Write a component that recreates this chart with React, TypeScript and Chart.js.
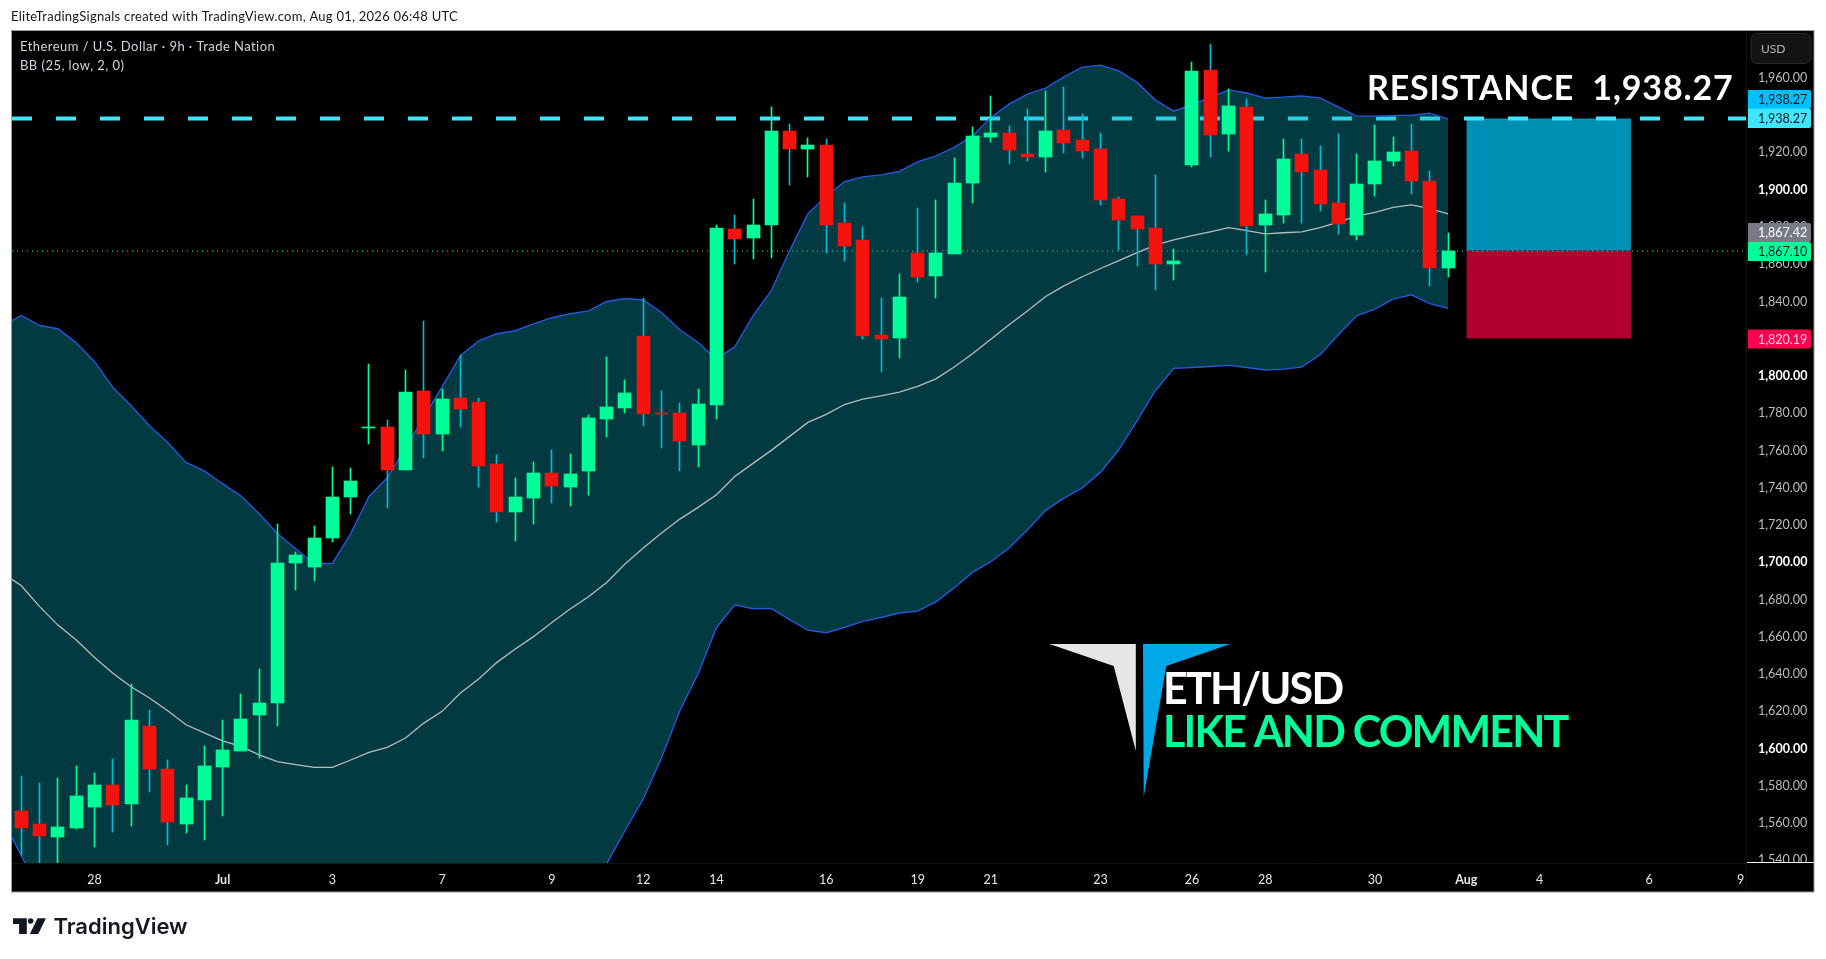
import React, { useEffect, useRef } from "react";
import { Chart, registerables } from "chart.js";

Chart.register(...registerables);

const opens = [1566.7,1559.7,1552.7,1557.5,1568.8,1580.6,1570.4,1612.3,1589.2,1559.7,1572.6,1590.3,1598.9,1618.2,1624.6,1699.8,1697.6,1713.2,1735.2,1772.2,1772.8,1749.7,1792.1,1769,1788.3,1786.2,1752.9,1727.1,1734.7,1748.1,1740.6,1749.2,1777.1,1783,1821.6,1780.3,1780.3,1763.1,1784.6,1879,1874.2,1881.2,1931.6,1922,1924.1,1882.3,1873.1,1822.1,1820.5,1866.2,1853.8,1865.6,1903.7,1928.4,1930.6,1919.3,1917.7,1932.2,1926.8,1922,1895.1,1886,1879.6,1860.2,1913.4,1964.4,1930,1944.5,1881.2,1886.5,1919.3,1910.7,1893,1875.8,1903.2,1915.5,1920.9,1904.8,1858.1];
const closes = [1557.6,1553.3,1558.1,1574.7,1580.6,1569.9,1615.5,1589.2,1560.8,1573.6,1590.8,1599.4,1616.1,1624.6,1699.8,1704.1,1713.2,1735.2,1743.8,1772.8,1749.7,1791.6,1769,1787.8,1782.4,1751.8,1727.1,1735.2,1748.1,1741.1,1747.5,1777.6,1783.5,1791,1779.7,1779.7,1765.3,1785.1,1879.6,1873.7,1881.2,1931.6,1922,1924.1,1881.2,1869.9,1821.6,1820,1842.5,1853.3,1866.2,1903.7,1928.9,1930.6,1921.4,1917.7,1931.6,1925.2,1920.9,1894.6,1883.9,1879,1860.2,1861.9,1963.8,1929.5,1945,1880.6,1887.1,1916.6,1909.6,1892.5,1881.7,1903.2,1915.5,1920.4,1904.8,1858.1,1867.1];
const highs = [1585.5,1581.7,1584.4,1590.8,1587.1,1594.6,1634.8,1620.9,1594,1580.6,1601.6,1615.5,1629.5,1642.9,1720.7,1705.7,1719.6,1751.3,1750.8,1806.6,1776.5,1803.4,1829.7,1793.2,1811.4,1788.3,1757.7,1745.4,1754,1760.4,1758.3,1779.2,1810.3,1798,1842,1792.1,1785.6,1793.2,1881.2,1886.5,1895.1,1944.5,1935.4,1927.9,1927.3,1893,1880.1,1842,1854.9,1890.3,1894.6,1917.1,1933.8,1950.4,1934.3,1943.4,1953.1,1955.2,1940.8,1930.6,1896.2,1886,1908,1868.3,1968.7,1978.3,1954.2,1948.8,1894.6,1927.3,1927.3,1923.6,1930,1919.3,1934.8,1928.4,1935.4,1910.2,1876.9];
const lows = [1543.1,1536.6,1535.5,1557,1547.4,1555.4,1558.6,1576.9,1548.4,1554.9,1551.1,1564,1598.9,1595.1,1612.3,1685.3,1690.1,1711,1726.1,1763.6,1729.3,1749.7,1756.1,1759.9,1772.8,1740.6,1721.8,1711.6,1720.7,1732,1730.4,1736.3,1767.4,1780.3,1773.3,1761.5,1749.2,1751.3,1777.1,1860.2,1862.9,1863.5,1902.6,1906.9,1866.2,1861.9,1820,1802.3,1809.8,1850.6,1842,1865.6,1893,1925.7,1913.9,1915.5,1909.6,1919.8,1917.1,1891.9,1867.8,1859.2,1846.3,1851.7,1912.3,1917.7,1920.9,1865.1,1856,1882.3,1882.3,1888.7,1876.4,1873.1,1896.7,1912.8,1897.8,1848.4,1853.3];

// Bollinger bands: the first value belongs to the bar just left of the visible window.
const bbUpper = [1827.2,1832.5,1827.1,1825.4,1817.8,1807.7,1793.9,1784,1773.3,1764.3,1753.6,1749.1,1742.2,1735.7,1726.1,1715.3,1707.3,1699.4,1699.4,1715.3,1735.2,1745.4,1761,1778.1,1794.2,1810.9,1818.9,1822.7,1824.3,1828,1831.3,1833.4,1835,1840,1841.6,1840.8,1834.1,1824.8,1818,1809.1,1815.7,1832.3,1845.8,1867.2,1887.2,1896.4,1904.3,1906.9,1908,1909.8,1915,1918.2,1922.7,1928.9,1938.8,1945.9,1951.3,1954.5,1960.6,1965.8,1966.9,1963.8,1957.6,1948.1,1942.2,1945.6,1949.5,1953.6,1951.9,1949.2,1949.7,1950.3,1949.3,1944.5,1939.5,1939.5,1939.8,1940,1941.1,1937.9];
const bbBasis = [1694.1,1687.4,1676.2,1666.3,1658.3,1648.9,1640.4,1633.2,1627.2,1620.3,1612.8,1608.4,1604.2,1601.2,1596.6,1593,1591.4,1589.9,1589.9,1593.9,1598,1600.7,1605.7,1613.7,1620,1629.8,1637.4,1646.3,1653.5,1660.1,1667.7,1674.9,1681.5,1689.2,1699.1,1707.7,1715.7,1723.2,1729.5,1736.3,1746.1,1753.1,1760.1,1767.6,1775.1,1779.4,1784.7,1787.6,1789.4,1791.4,1794.5,1798.5,1804.8,1811.9,1819.8,1827.5,1834.9,1842.7,1848.4,1853.3,1857.7,1861.9,1866.2,1870.3,1873.1,1875.3,1877.4,1879.7,1878.1,1876.3,1876.9,1877.4,1879.7,1882.6,1885.8,1887.8,1890.5,1891.9,1889.9,1887.1];
const bbLower = [1561.3,1542.5,1523.7,1507.2,1498.8,1490.1,1486.9,1482.4,1481.1,1476.3,1472,1467.7,1466.2,1466.7,1467.1,1470.7,1475.5,1480.4,1480.4,1472.5,1460.8,1456,1450.4,1449.3,1445.8,1448.7,1455.9,1469.9,1482.7,1492.2,1504.1,1516.4,1528,1538.2,1555.9,1573.1,1595.1,1620.3,1640.2,1664.9,1677.2,1675.1,1675.3,1669.2,1663.6,1662.2,1665,1668.3,1670.4,1672.8,1673.8,1678.8,1686.2,1694.6,1700.3,1707.7,1717.3,1727.9,1734.5,1740,1748.4,1760.4,1776,1792.1,1804.1,1804.6,1805.1,1805.7,1804.6,1803.2,1803.7,1804.8,1811.4,1822.1,1832.3,1835.9,1841.3,1843.6,1838.9,1836.3];

const resistancePrice = 1938.27;
const entryPrice = 1867.42;
const stopPrice = 1820.19;
const lastPrice = 1867.1;
const positionBars = [79, 88];

const yTicks = [1540,1560,1580,1600,1620,1640,1660,1680,1700,1720,1740,1760,1780,1800,1820,1840,1860,1880,1900,1920,1940,1960];
const yBold = [1600, 1700, 1800, 1900];
const xTickBars = [4, 11, 17, 23, 29, 34, 38, 44, 49, 53, 59, 64, 68, 74, 79, 83, 89, 94];
const xTickLabels = ["28","Jul","3","7","9","12","14","16","19","21","23","26","28","30","Aug","4","6","9"];
const xBold = ["Jul", "Aug"];

const X_MIN = -0.514, X_MAX = 94.29, Y_MIN = 1538.6, Y_MAX = 1985.2;

const GREEN = "#00ff99", RED = "#f7130d", WICK_UP = "#00ff99", WICK_DOWN = "#00bcd4";
const UI = "Lato, Roboto, sans-serif";

const fmt = (v: number) => v.toLocaleString("en-US", { minimumFractionDigits: 2, maximumFractionDigits: 2 });

const snapBars = {
  id: "snapBars",
  afterDatasetsUpdate(chart: any) {
    chart.data.datasets.forEach((ds: any, i: number) => {
      if (ds.type !== "bar") return;
      chart.getDatasetMeta(i).data.forEach((el: any) => {
        el.x = Math.round(el.x - 0.5) + 0.5;
        const top = Math.round(Math.min(el.y, el.base));
        let bot = Math.round(Math.max(el.y, el.base));
        if (bot <= top) bot = top + 1;
        el.y = top;
        el.base = bot;
      });
    });
  },
};

const poly = (ctx: CanvasRenderingContext2D, pts: number[][], color: string) => {
  ctx.beginPath();
  pts.forEach((p, i) => (i ? ctx.lineTo(p[0], p[1]) : ctx.moveTo(p[0], p[1])));
  ctx.closePath();
  ctx.fillStyle = color;
  ctx.fill();
};

const text = (ctx: any, s: string, x: number, y: number, font: string, color: string, spacing = 0) => {
  ctx.font = font;
  ctx.fillStyle = color;
  ctx.textAlign = "left";
  ctx.textBaseline = "alphabetic";
  ctx.letterSpacing = spacing + "px";
  ctx.fillText(s, x, y);
  ctx.letterSpacing = "0px";
};

const paneBackground = {
  id: "paneBackground",
  beforeDraw(chart: any) {
    const ctx = chart.ctx;
    ctx.save();
    ctx.fillStyle = "#ffffff";
    ctx.fillRect(0, 0, 1826, 959);
    ctx.fillStyle = "#000000";
    ctx.fillRect(11, 30, 1803, 862);
    ctx.restore();
  },
};

const overlay = {
  id: "overlay",
  afterDraw(chart: any) {
    const ctx = chart.ctx;
    ctx.save();

    // pane frame and axis separators
    ctx.strokeStyle = "#141414";
    ctx.lineWidth = 1;
    ctx.beginPath();
    ctx.moveTo(1746.5, 31);
    ctx.lineTo(1746.5, 891);
    ctx.moveTo(12, 863.5);
    ctx.lineTo(1746, 863.5);
    ctx.stroke();
    ctx.fillStyle = "#000000";
    ctx.fillRect(1747, 862, 66, 29);
    ctx.fillStyle = "#ffffff";
    ctx.fillRect(1747, 862, 67, 1);
    ctx.strokeStyle = "#9b9b9b";
    ctx.strokeRect(11.5, 30.5, 1802.5, 861.5);

    // header
    text(ctx, "EliteTradingSignals created with TradingView.com, Aug 01, 2026 06:48 UTC", 11, 21, `13px ${UI}`, "#131722", 0.25);
    text(ctx, "Ethereum / U.S. Dollar · 9h · Trade Nation", 20, 51, `13px ${UI}`, "#d1d4dc", 0.45);
    text(ctx, "BB (25, low, 2, 0)", 20, 70, `13px ${UI}`, "#d1d4dc", 0.45);

    // USD box
    ctx.beginPath();
    ctx.roundRect(1751, 33.5, 60, 30, 6);
    ctx.fillStyle = "#131313";
    ctx.fill();
    ctx.strokeStyle = "#2a2a2a";
    ctx.stroke();
    text(ctx, "USD", 1761, 53, `12px ${UI}`, "#b2b5be");

    // price labels
    const labels: [number, number, number, string, string][] = [
      [resistancePrice, 90, 19, "#00bfff", "#131722"],
      [resistancePrice, 108.5, 19.5, "#3fe6ff", "#131722"],
      [entryPrice, 223, 19, "#787b86", "#ffffff"],
      [lastPrice, 242, 19, GREEN, "#131722"],
      [stopPrice, 329.5, 19, "#ff0050", "#ffd0dc"],
    ];
    labels.forEach(([v, top, h, bg, fg]) => {
      ctx.beginPath();
      ctx.roundRect(1748, top, 63, h, [0, 2, 2, 0]);
      ctx.fillStyle = bg;
      ctx.fill();
      text(ctx, fmt(v), 1758, top + h / 2 + 4.5, `12.5px ${UI}`, fg);
    });

    // annotations
    text(ctx, "RESISTANCE  1,938.27", 1367, 100, `bold 34px ${UI}`, "#ffffff", 0.85);
    poly(ctx, [[1049.5, 644], [1135.8, 644], [1135.8, 750.7], [1113.7, 666]], "#e6e6e6");
    poly(ctx, [[1143, 644], [1230.5, 644], [1166.3, 666], [1143.7, 797]], "#00a8e8");
    text(ctx, "ETH/USD", 1163, 704, `bold 43px ${UI}`, "#ffffff", -1.8);
    text(ctx, "LIKE AND COMMENT", 1163, 747, `bold 43px ${UI}`, GREEN, -1.8);

    // footer brand
    poly(ctx, [[13, 918.3], [26.8, 918.3], [26.8, 934], [19.1, 934], [19.1, 924], [13, 924]], "#131722");
    poly(ctx, [[37.5, 918.3], [45.9, 918.3], [38.3, 934], [29.9, 934]], "#131722");
    ctx.beginPath();
    ctx.arc(30.6, 921, 2.8, 0, Math.PI * 2);
    ctx.fillStyle = "#131722";
    ctx.fill();
    text(ctx, "TradingView", 53.5, 934, `600 22px Inter, ${UI}`, "#131722");

    ctx.restore();
  },
};

export default function App() {
  const ref = useRef<HTMLCanvasElement | null>(null);
  useEffect(() => {
    const line = (data: any[], extra: any) => ({
      type: "line",
      data,
      pointRadius: 0,
      tension: 0,
      clip: 0,
      ...extra,
    });
    const series = (vals: number[]) => vals.map((y, i) => ({ x: i - 1, y }));
    const chart = new Chart(ref.current as HTMLCanvasElement, {
      type: "bar",
      data: {
        datasets: [
          {
            type: "bar",
            label: "bodies",
            data: opens.map((o, i) => ({ x: i, y: [o, closes[i]] })),
            backgroundColor: opens.map((o, i) => (closes[i] >= o ? GREEN : RED)),
            barThickness: 13,
            grouped: false,
            borderWidth: 0,
            order: 1,
            clip: 0,
          },
          {
            type: "bar",
            label: "wicks",
            data: highs.map((h, i) => ({ x: i, y: [lows[i], h] })),
            backgroundColor: opens.map((o, i) => (closes[i] >= o ? WICK_UP : WICK_DOWN)),
            barThickness: 1,
            grouped: false,
            borderWidth: 0,
            order: 2,
            clip: 0,
          },
          line(series(bbBasis), { label: "BB basis", borderColor: "#b7bdbd", borderWidth: 1.3, order: 3 }),
          line(series(bbLower), { label: "BB lower", borderColor: "#2458dc", borderWidth: 1.4, order: 4 }),
          line(series(bbUpper), {
            label: "BB upper",
            borderColor: "#2458dc",
            borderWidth: 1.4,
            order: 5,
            fill: { target: 3 },
            backgroundColor: "rgba(6,166,189,0.35)",
          }),
          line([{ x: X_MIN, y: resistancePrice }, { x: X_MAX, y: resistancePrice }], {
            label: "resistance",
            borderColor: "#3fe6ff",
            borderWidth: 4,
            borderDash: [20, 24],
            order: 7,
          }),
          line([{ x: X_MIN, y: lastPrice }, { x: X_MAX, y: lastPrice }], {
            label: "last price",
            borderColor: GREEN,
            borderWidth: 1,
            borderDash: [1, 4],
            order: 7,
          }),
          line(positionBars.map((x) => ({ x, y: resistancePrice })), {
            label: "target zone",
            borderWidth: 0,
            borderColor: "rgba(0,0,0,0)",
            fill: { value: entryPrice },
            backgroundColor: "#008fb5",
            order: 8,
          }),
          line(positionBars.map((x) => ({ x, y: stopPrice })), {
            label: "stop zone",
            borderWidth: 0,
            borderColor: "rgba(0,0,0,0)",
            fill: { value: entryPrice },
            backgroundColor: "#b00030",
            order: 8,
          }),
        ] as any,
      },
      options: {
        responsive: false,
        animation: false,
        devicePixelRatio: 1,
        layout: { padding: { left: 12, top: 31, right: 12, bottom: 67 } },
        plugins: { legend: { display: false }, tooltip: { enabled: false } },
        scales: {
          x: {
            type: "linear",
            position: "bottom",
            offset: false,
            min: X_MIN,
            max: X_MAX,
            grid: { display: false, drawTicks: false, offset: false },
            border: { display: false },
            afterBuildTicks: (s: any) => {
              s.ticks = xTickBars.map((value) => ({ value }));
            },
            afterFit: (s: any) => {
              s.height = 29;
              s.paddingLeft = 0;
              s.paddingRight = 0;
            },
            ticks: {
              autoSkip: false,
              maxRotation: 0,
              padding: 9,
              callback: (v: any) => xTickLabels[xTickBars.indexOf(v)],
              color: "#e4e6ea",
              font: (c: any) => ({
                family: UI,
                size: 12.5,
                weight: xBold.includes(xTickLabels[xTickBars.indexOf(c.tick?.value)]) ? "bold" : "normal",
              }),
            },
          },
          y: {
            type: "linear",
            position: "right",
            min: Y_MIN,
            max: Y_MAX,
            grid: { display: false, drawTicks: false },
            border: { display: false },
            afterBuildTicks: (s: any) => {
              s.ticks = yTicks.map((value) => ({ value }));
            },
            afterFit: (s: any) => {
              s.width = 68;
            },
            ticks: {
              autoSkip: false,
              crossAlign: "near",
              padding: 12,
              callback: (v: any) => fmt(v),
              color: (c: any) => (yBold.includes(c.tick?.value) ? "#ffffff" : "#b9bcc4"),
              font: (c: any) => ({
                family: UI,
                size: 12.5,
                weight: yBold.includes(c.tick?.value) ? "bold" : "normal",
              }),
            },
          },
        },
      } as any,
      plugins: [paneBackground, snapBars, overlay],
    } as any);
    return () => chart.destroy();
  }, []);
  return (
    <canvas
      ref={ref}
      width={1826}
      height={959}
      style={{ position: "fixed", left: 0, top: 0, width: 1826, height: 959, display: "block" }}
    />
  );
}
